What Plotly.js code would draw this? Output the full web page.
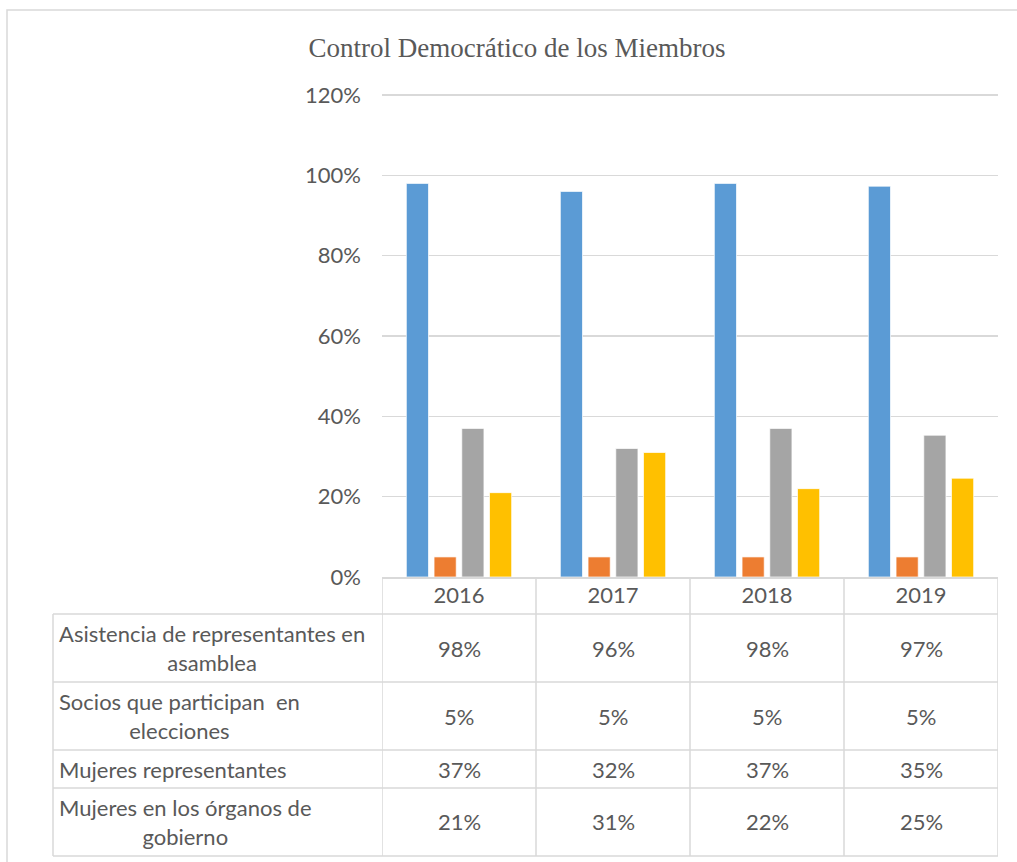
<!DOCTYPE html>
<html>
<head>
<meta charset="utf-8">
<script src="https://cdn.plot.ly/plotly-3.0.1.min.js"></script>
<style>
  html, body { margin: 0; padding: 0; background: #ffffff; }
  #chart { width: 1017px; height: 862px; }
</style>
</head>
<body>
<div id="chart"></div>
<script>
// ---- data ----
var years = ["2016", "2017", "2018", "2019"];
var seriesNames = [
  "Asistencia de representantes en<br>asamblea",
  "Socios que participan  en<br>elecciones",
  "Mujeres representantes",
  "Mujeres en los órganos de<br>gobierno"
];
var asistencia = [0.98, 0.96, 0.98, 0.973];
var socios = [0.05, 0.05, 0.05, 0.05];
var mujeresRep = [0.37, 0.32, 0.37, 0.353];
var mujeresOrg = [0.21, 0.31, 0.22, 0.246];
var yTickVals = [0, 0.2, 0.4, 0.6, 0.8, 1.0, 1.2];
var yTickText = ["0%", "20%", "40%", "60%", "80%", "100%", "120%"];

// ---- styling / layout constants ----
var colors = ["#5b9bd5", "#ed7d31", "#a5a5a5", "#ffc000"];
var textColor = "#595959";
var lineColor = "#d9d9d9";
var bodyFont = "Lato, 'Open Sans', sans-serif";
var fs = 22;
var W = 1017, H = 862;
var M = { l: 382, r: 19, t: 91, b: 285 };
var plotW = W - M.l - M.r, plotH = H - M.t - M.b;
function px2py(p) { return (H - M.b - p) / plotH; }   // pixel y -> paper y
function px2px(p) { return (p - M.l) / plotW; }       // pixel x -> paper x

var allSeries = [asistencia, socios, mujeresRep, mujeresOrg];
var rowBounds = [614, 682, 750, 788, 856]; // table row separators (px)
var headerTop = 577, tableLeft = 53;

var traces = allSeries.map(function (vals, i) {
  return {
    type: "bar",
    x: years,
    y: vals,
    name: seriesNames[i].replace("<br>", " "),
    marker: { color: colors[i], line: { color: "rgba(255,255,255,0.7)", width: 1 } },
    hoverinfo: "skip"
  };
});

var shapes = [];
var annotations = [];

// outer chart frame
shapes.push({
  type: "rect", xref: "paper", yref: "paper",
  x0: px2px(7), x1: px2px(1030), y0: px2py(10), y1: px2py(880),
  line: { color: lineColor, width: 1.5 }, layer: "below"
});

// horizontal table lines
rowBounds.forEach(function (p) {
  shapes.push({
    type: "line", xref: "paper", yref: "paper",
    x0: px2px(tableLeft), x1: 1, y0: px2py(p), y1: px2py(p),
    line: { color: lineColor, width: 1.5 }
  });
});
// vertical lines at category boundaries
for (var j = 0; j <= years.length; j++) {
  shapes.push({
    type: "line", xref: "x", yref: "paper",
    x0: j - 0.5, x1: j - 0.5, y0: px2py(headerTop), y1: px2py(rowBounds[rowBounds.length - 1]),
    line: { color: lineColor, width: 1.5 }
  });
}
// left edge of table
shapes.push({
  type: "line", xref: "paper", yref: "paper",
  x0: px2px(tableLeft), x1: px2px(tableLeft),
  y0: px2py(rowBounds[0]), y1: px2py(rowBounds[rowBounds.length - 1]),
  line: { color: lineColor, width: 1.5 }
});

// row labels and values
for (var r = 0; r < seriesNames.length; r++) {
  var yc = px2py((rowBounds[r] + rowBounds[r + 1]) / 2);
  annotations.push({
    xref: "paper", yref: "paper", x: px2px(58), y: yc,
    xanchor: "left", yanchor: "middle", align: "center",
    text: seriesNames[r], showarrow: false, borderpad: 0,
    font: { family: bodyFont, size: fs, color: textColor }
  });
  for (var c = 0; c < years.length; c++) {
    annotations.push({
      xref: "x", yref: "paper", x: c, y: yc,
      xanchor: "center", yanchor: "middle",
      text: Math.round(allSeries[r][c] * 100) + "%", showarrow: false,
      font: { family: bodyFont, size: fs, color: textColor }
    });
  }
}

var layout = {
  width: W, height: H,
  margin: M,
  paper_bgcolor: "#ffffff",
  plot_bgcolor: "#ffffff",
  showlegend: false,
  barmode: "group",
  bargap: 0.28,
  bargroupgap: 0.2,
  title: {
    text: "Control Democrático de los Miembros",
    font: { family: "'Liberation Serif', 'Times New Roman', serif", size: 27, color: textColor },
    x: 517 / W, xref: "container", xanchor: "center",
    y: 1 - 48 / H, yref: "container", yanchor: "middle"
  },
  xaxis: {
    type: "category",
    range: [-0.5, years.length - 0.5],
    showgrid: false,
    showline: true, linecolor: lineColor, linewidth: 1.5,
    ticks: "", ticklabelstandoff: -2,
    tickfont: { family: bodyFont, size: fs, color: textColor },
    fixedrange: true
  },
  yaxis: {
    range: [0, 1.21],
    tickvals: yTickVals, ticktext: yTickText,
    showgrid: true, gridcolor: lineColor, gridwidth: 1.5,
    zeroline: false, showline: false,
    ticks: "", ticklabelstandoff: 20,
    tickfont: { family: bodyFont, size: fs, color: textColor },
    fixedrange: true
  },
  shapes: shapes,
  annotations: annotations
};

Plotly.newPlot("chart", traces, layout, { displayModeBar: false, staticPlot: true });
</script>
</body>
</html>
